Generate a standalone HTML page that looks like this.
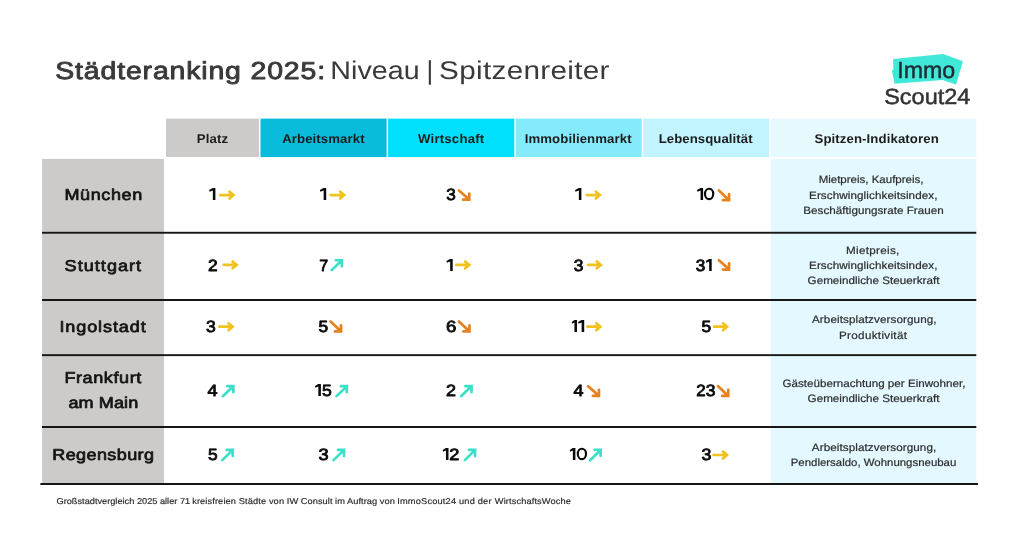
<!DOCTYPE html>
<html lang="de"><head><meta charset="utf-8"><title>Städteranking 2025: Niveau | Spitzenreiter</title>
<style>html,body{margin:0;padding:0;background:#fff}body{width:1024px;height:538px;overflow:hidden}svg{display:block}text{font-family:"Liberation Sans",sans-serif;white-space:pre;text-rendering:geometricPrecision}.b{font-weight:700}</style></head><body>
<svg style="will-change:transform" width="1024" height="538" viewBox="0 0 1024 538">
<!-- table cells -->
<rect x="42.1" y="158.9" width="121.90" height="325.10" fill="#cccbc9"/>
<rect x="166.0" y="118.6" width="92.97" height="38.45" fill="#cccbc9"/>
<rect x="260.47" y="118.6" width="126.15" height="38.45" fill="#0abcdc"/>
<rect x="388.12" y="118.6" width="126.20" height="38.45" fill="#00dffc"/>
<rect x="515.82" y="118.6" width="125.91" height="38.45" fill="#86eafd"/>
<rect x="643.23" y="118.6" width="125.97" height="38.45" fill="#c1f4fe"/>
<rect x="770.7" y="118.6" width="205.60" height="38.45" fill="#e6fafe"/>
<rect x="770.7" y="159.2" width="205.60" height="324.80" fill="#e4f9ff"/>
<!-- row rules -->
<rect x="42" y="231.8" width="934.30" height="1.90" fill="#161616"/>
<rect x="42" y="299.0" width="934.30" height="2.00" fill="#161616"/>
<rect x="42" y="354.2" width="934.30" height="1.90" fill="#161616"/>
<rect x="42" y="426.0" width="934.30" height="2.00" fill="#161616"/>
<rect x="40.4" y="483.0" width="937.60" height="2.00" fill="#161616"/>
<!-- logo tag -->
<polygon points="893.1,59 943.2,54 962.9,61.3 956.1,84.4 942.4,79.9 894.6,83.8 891.8,70.3 893.4,69.9" fill="#40e8d8"/>
<!-- title separator bar -->
<rect x="428.8" y="60.2" width="2.10" height="24.60" fill="#3a3a3a"/>
<!-- text -->
<text transform="translate(55.29 79) scale(1.1600 1)" font-size="24.5" fill="#3a3a3a" stroke="#3a3a3a" stroke-width="0.88" stroke-linejoin="round" letter-spacing="0.735">Städteranking 2025:</text>
<text transform="translate(330.26 79) scale(1.1200 1)" font-size="25.6" fill="#3a3a3a" letter-spacing="0.050">Niveau</text>
<text transform="translate(439.05 79) scale(1.1600 1)" font-size="25.6" fill="#3a3a3a" letter-spacing="0.272">Spitzenreiter</text>
<text class="b" transform="translate(196.72 143) scale(1.0400 1)" font-size="12.7" fill="#1c1c1c" letter-spacing="0.159">Platz</text>
<text class="b" transform="translate(282.24 143) scale(1.0400 1)" font-size="12.7" fill="#1c1c1c" letter-spacing="0.077">Arbeitsmarkt</text>
<text class="b" transform="translate(418.00 143) scale(1.0400 1)" font-size="12.7" fill="#1c1c1c" letter-spacing="0.190">Wirtschaft</text>
<text class="b" transform="translate(524.72 143) scale(1.0400 1)" font-size="12.7" fill="#1c1c1c" letter-spacing="0.084">Immobilienmarkt</text>
<text class="b" transform="translate(658.72 143) scale(1.0400 1)" font-size="12.7" fill="#1c1c1c" letter-spacing="0.052">Lebensqualität</text>
<text class="b" transform="translate(814.48 143) scale(1.0400 1)" font-size="12.7" fill="#1c1c1c" letter-spacing="0.098">Spitzen-Indikatoren</text>
<text transform="translate(64.42 200) scale(1.1500 1)" font-size="15.7" fill="#141414" stroke="#141414" stroke-width="0.71" stroke-linejoin="round" letter-spacing="0.522">München</text>
<text transform="translate(64.59 271) scale(1.1500 1)" font-size="15.7" fill="#141414" stroke="#141414" stroke-width="0.71" stroke-linejoin="round" letter-spacing="0.904">Stuttgart</text>
<text transform="translate(59.43 332) scale(1.1500 1)" font-size="15.7" fill="#141414" stroke="#141414" stroke-width="0.71" stroke-linejoin="round" letter-spacing="0.774">Ingolstadt</text>
<text transform="translate(64.42 383) scale(1.1500 1)" font-size="15.7" fill="#141414" stroke="#141414" stroke-width="0.71" stroke-linejoin="round" letter-spacing="0.507">Frankfurt</text>
<text transform="translate(68.39 408) scale(1.1500 1)" font-size="15.7" fill="#141414" stroke="#141414" stroke-width="0.71" stroke-linejoin="round" letter-spacing="0.104">am Main</text>
<text transform="translate(52.22 460) scale(1.1500 1)" font-size="15.7" fill="#141414" stroke="#141414" stroke-width="0.71" stroke-linejoin="round" letter-spacing="0.343">Regensburg</text>
<text transform="translate(446.22 200) scale(1.0507 1)" font-size="16.3" fill="#0a0a0a" stroke="#0a0a0a" stroke-width="0.82" stroke-linejoin="round">3</text>
<text transform="translate(207.91 271) scale(1.0640 1)" font-size="16.3" fill="#0a0a0a" stroke="#0a0a0a" stroke-width="0.82" stroke-linejoin="round">2</text>
<text transform="translate(319.27 271) scale(0.9840 1)" font-size="16.3" fill="#0a0a0a" stroke="#0a0a0a" stroke-width="0.82" stroke-linejoin="round">7</text>
<text transform="translate(573.81 271) scale(1.0640 1)" font-size="16.3" fill="#0a0a0a" stroke="#0a0a0a" stroke-width="0.82" stroke-linejoin="round">3</text>
<text transform="translate(695.82 271) scale(1.0507 1)" font-size="16.3" fill="#0a0a0a" stroke="#0a0a0a" stroke-width="0.82" stroke-linejoin="round">3</text>
<text transform="translate(206.10 332) scale(1.0773 1)" font-size="16.3" fill="#0a0a0a" stroke="#0a0a0a" stroke-width="0.82" stroke-linejoin="round">3</text>
<text transform="translate(318.61 332) scale(1.0640 1)" font-size="16.3" fill="#0a0a0a" stroke="#0a0a0a" stroke-width="0.82" stroke-linejoin="round">5</text>
<text transform="translate(446.05 332) scale(1.1440 1)" font-size="16.3" fill="#0a0a0a" stroke="#0a0a0a" stroke-width="0.82" stroke-linejoin="round">6</text>
<text transform="translate(701.61 332) scale(1.0640 1)" font-size="16.3" fill="#0a0a0a" stroke="#0a0a0a" stroke-width="0.82" stroke-linejoin="round">5</text>
<text transform="translate(207.55 396) scale(1.1100 1)" font-size="16.3" fill="#0a0a0a" stroke="#0a0a0a" stroke-width="0.82" stroke-linejoin="round">4</text>
<text transform="translate(322.00 396) scale(1.0773 1)" font-size="16.3" fill="#0a0a0a" stroke="#0a0a0a" stroke-width="0.82" stroke-linejoin="round">5</text>
<text transform="translate(446.08 396) scale(1.1040 1)" font-size="16.3" fill="#0a0a0a" stroke="#0a0a0a" stroke-width="0.82" stroke-linejoin="round">2</text>
<text transform="translate(573.46 396) scale(1.1100 1)" font-size="16.3" fill="#0a0a0a" stroke="#0a0a0a" stroke-width="0.82" stroke-linejoin="round">4</text>
<text transform="translate(696.23 396) scale(1.0373 1)" font-size="16.3" fill="#0a0a0a" stroke="#0a0a0a" stroke-width="0.82" stroke-linejoin="round">2</text>
<text transform="translate(705.80 396) scale(1.0773 1)" font-size="16.3" fill="#0a0a0a" stroke="#0a0a0a" stroke-width="0.82" stroke-linejoin="round">3</text>
<text transform="translate(207.91 460) scale(1.0640 1)" font-size="16.3" fill="#0a0a0a" stroke="#0a0a0a" stroke-width="0.82" stroke-linejoin="round">5</text>
<text transform="translate(318.57 460) scale(1.1173 1)" font-size="16.3" fill="#0a0a0a" stroke="#0a0a0a" stroke-width="0.82" stroke-linejoin="round">3</text>
<text transform="translate(449.37 460) scale(1.1173 1)" font-size="16.3" fill="#0a0a0a" stroke="#0a0a0a" stroke-width="0.82" stroke-linejoin="round">2</text>
<text transform="translate(701.59 460) scale(1.0907 1)" font-size="16.3" fill="#0a0a0a" stroke="#0a0a0a" stroke-width="0.82" stroke-linejoin="round">3</text>
<text transform="translate(818.63 183) scale(1.0763 1)" font-size="10.7" fill="#2e2e2e" stroke="#2e2e2e" stroke-width="0.21" stroke-linejoin="round">Mietpreis, Kaufpreis,</text>
<text transform="translate(809.01 199) scale(1.0900 1)" font-size="10.7" fill="#2e2e2e" stroke="#2e2e2e" stroke-width="0.21" stroke-linejoin="round" letter-spacing="0.089">Erschwinglichkeitsindex,</text>
<text transform="translate(803.31 214) scale(1.0900 1)" font-size="10.7" fill="#2e2e2e" stroke="#2e2e2e" stroke-width="0.21" stroke-linejoin="round" letter-spacing="0.020">Beschäftigungsrate Frauen</text>
<text transform="translate(846.01 254) scale(1.0900 1)" font-size="10.7" fill="#2e2e2e" stroke="#2e2e2e" stroke-width="0.21" stroke-linejoin="round" letter-spacing="0.284">Mietpreis,</text>
<text transform="translate(809.01 269) scale(1.0900 1)" font-size="10.7" fill="#2e2e2e" stroke="#2e2e2e" stroke-width="0.21" stroke-linejoin="round" letter-spacing="0.089">Erschwinglichkeitsindex,</text>
<text transform="translate(807.56 284) scale(1.0900 1)" font-size="10.7" fill="#2e2e2e" stroke="#2e2e2e" stroke-width="0.21" stroke-linejoin="round" letter-spacing="0.020">Gemeindliche Steuerkraft</text>
<text transform="translate(812.00 323) scale(1.0900 1)" font-size="10.7" fill="#2e2e2e" stroke="#2e2e2e" stroke-width="0.21" stroke-linejoin="round" letter-spacing="0.089">Arbeitsplatzversorgung,</text>
<text transform="translate(839.01 339) scale(1.0900 1)" font-size="10.7" fill="#2e2e2e" stroke="#2e2e2e" stroke-width="0.21" stroke-linejoin="round" letter-spacing="0.294">Produktivität</text>
<text transform="translate(782.56 387) scale(1.0872 1)" font-size="10.7" fill="#2e2e2e" stroke="#2e2e2e" stroke-width="0.21" stroke-linejoin="round">Gästeübernachtung per Einwohner,</text>
<text transform="translate(807.56 402) scale(1.0900 1)" font-size="10.7" fill="#2e2e2e" stroke="#2e2e2e" stroke-width="0.21" stroke-linejoin="round" letter-spacing="0.020">Gemeindliche Steuerkraft</text>
<text transform="translate(811.81 451) scale(1.0900 1)" font-size="10.7" fill="#2e2e2e" stroke="#2e2e2e" stroke-width="0.21" stroke-linejoin="round" letter-spacing="0.085">Arbeitsplatzversorgung,</text>
<text transform="translate(790.74 466) scale(1.0688 1)" font-size="10.7" fill="#2e2e2e" stroke="#2e2e2e" stroke-width="0.21" stroke-linejoin="round">Pendlersaldo, Wohnungsneubau</text>
<text transform="translate(56.49 504) scale(1.0839 1)" font-size="8.5" fill="#2a2a2a" stroke="#2a2a2a" stroke-width="0.17" stroke-linejoin="round">Großstadtvergleich 2025 aller 71</text>
<text transform="translate(192.14 504) scale(1.0900 1)" font-size="8.5" fill="#2a2a2a" stroke="#2a2a2a" stroke-width="0.17" stroke-linejoin="round" letter-spacing="0.100">kreisfreien Städte von IW</text>
<text transform="translate(300.84 504) scale(1.0900 1)" font-size="8.5" fill="#2a2a2a" stroke="#2a2a2a" stroke-width="0.17" stroke-linejoin="round" letter-spacing="0.032">Consult im Auftrag von</text>
<text transform="translate(397.17 504) scale(1.0900 1)" font-size="8.5" fill="#2a2a2a" stroke="#2a2a2a" stroke-width="0.17" stroke-linejoin="round" letter-spacing="0.160">ImmoScout24 und der</text>
<text transform="translate(494.78 504) scale(1.0900 1)" font-size="8.5" fill="#2a2a2a" stroke="#2a2a2a" stroke-width="0.17" stroke-linejoin="round" letter-spacing="0.105">WirtschaftsWoche</text>
<text transform="translate(897.20 78) scale(0.9951 1)" font-size="23.3" fill="#1f2d36" stroke="#1f2d36" stroke-width="0.47" stroke-linejoin="round">Immo</text>
<text transform="translate(884.17 104) scale(1.0673 1)" font-size="22.0" fill="#333" stroke="#333" stroke-width="0.48" stroke-linejoin="round">Scout24</text>
<!-- hand-drawn digits 1 / 0 -->
<polygon points="215.40,200.00 215.40,187.90 212.75,187.90 209.20,189.95 209.55,191.65 212.85,190.45 212.85,200.00" fill="#0a0a0a"/>
<polygon points="326.20,200.00 326.20,187.90 323.55,187.90 319.90,189.95 320.25,191.65 323.65,190.45 323.65,200.00" fill="#0a0a0a"/>
<polygon points="581.40,200.00 581.40,187.90 578.75,187.90 575.10,189.95 575.45,191.65 578.85,190.45 578.85,200.00" fill="#0a0a0a"/>
<polygon points="703.10,200.00 703.10,187.90 700.45,187.90 697.00,189.95 697.35,191.65 700.55,190.45 700.55,200.00" fill="#0a0a0a"/>
<ellipse cx="709.10" cy="193.95" rx="4.12" ry="5.24" fill="none" stroke="#0a0a0a" stroke-width="2.15"/>
<polygon points="452.70,271.00 452.70,258.90 450.05,258.90 446.50,260.95 446.85,262.65 450.15,261.45 450.15,271.00" fill="#0a0a0a"/>
<polygon points="711.70,271.00 711.70,258.90 709.05,258.90 705.90,260.95 706.25,262.65 709.15,261.45 709.15,271.00" fill="#0a0a0a"/>
<polygon points="577.00,332.00 577.00,319.90 574.35,319.90 571.80,321.95 572.15,323.65 574.45,322.45 574.45,332.00" fill="#0a0a0a"/>
<polygon points="584.20,332.00 584.20,319.90 581.55,319.90 578.10,321.95 578.45,323.65 581.65,322.45 581.65,332.00" fill="#0a0a0a"/>
<polygon points="320.90,396.00 320.90,383.90 318.25,383.90 315.00,385.95 315.35,387.65 318.35,386.45 318.35,396.00" fill="#0a0a0a"/>
<polygon points="448.50,460.00 448.50,447.90 445.85,447.90 442.70,449.95 443.05,451.65 445.95,450.45 445.95,460.00" fill="#0a0a0a"/>
<polygon points="575.40,460.00 575.40,447.90 572.75,447.90 569.80,449.95 570.15,451.65 572.85,450.45 572.85,460.00" fill="#0a0a0a"/>
<ellipse cx="581.90" cy="453.95" rx="4.12" ry="5.24" fill="none" stroke="#0a0a0a" stroke-width="2.15"/>
<!-- trend arrows -->
<path d="M220.25 195.10H232.84M229.44 191.70L233.44 195.10L229.44 198.50" fill="none" stroke="#f1c11d" stroke-width="2.7" stroke-linecap="round" stroke-linejoin="miter"/>
<path d="M330.65 195.10H343.54M340.14 191.70L344.14 195.10L340.14 198.50" fill="none" stroke="#f1c11d" stroke-width="2.7" stroke-linecap="round" stroke-linejoin="miter"/>
<path d="M586.75 195.10H599.24M595.84 191.70L599.84 195.10L595.84 198.50" fill="none" stroke="#f1c11d" stroke-width="2.7" stroke-linecap="round" stroke-linejoin="miter"/>
<path d="M223.75 264.90H236.04M232.64 261.50L236.64 264.90L232.64 268.30" fill="none" stroke="#f1c11d" stroke-width="2.7" stroke-linecap="round" stroke-linejoin="miter"/>
<path d="M456.35 264.90H468.64M465.24 261.50L469.24 264.90L465.24 268.30" fill="none" stroke="#f1c11d" stroke-width="2.7" stroke-linecap="round" stroke-linejoin="miter"/>
<path d="M588.15 264.90H600.24M596.84 261.50L600.84 264.90L596.84 268.30" fill="none" stroke="#f1c11d" stroke-width="2.7" stroke-linecap="round" stroke-linejoin="miter"/>
<path d="M219.35 326.70H231.94M228.54 323.30L232.54 326.70L228.54 330.10" fill="none" stroke="#f1c11d" stroke-width="2.7" stroke-linecap="round" stroke-linejoin="miter"/>
<path d="M587.45 326.70H599.74M596.34 323.30L600.34 326.70L596.34 330.10" fill="none" stroke="#f1c11d" stroke-width="2.7" stroke-linecap="round" stroke-linejoin="miter"/>
<path d="M714.15 326.70H726.44M723.04 323.30L727.04 326.70L723.04 330.10" fill="none" stroke="#f1c11d" stroke-width="2.7" stroke-linecap="round" stroke-linejoin="miter"/>
<path d="M713.55 455.00H726.34M722.94 451.60L726.94 455.00L722.94 458.40" fill="none" stroke="#f1c11d" stroke-width="2.7" stroke-linecap="round" stroke-linejoin="miter"/>
<path d="M458.95 190.55L468.55 198.95M469.25 193.55V199.65H463.15" fill="none" stroke="#e8801c" stroke-width="2.7" stroke-linecap="round" stroke-linejoin="miter"/>
<path d="M718.95 190.55L728.35 199.45M729.05 194.05V200.15H722.95" fill="none" stroke="#e8801c" stroke-width="2.7" stroke-linecap="round" stroke-linejoin="miter"/>
<path d="M718.95 260.25L728.35 268.85M729.05 263.45V269.55H722.95" fill="none" stroke="#e8801c" stroke-width="2.7" stroke-linecap="round" stroke-linejoin="miter"/>
<path d="M330.55 321.55L340.35 330.75M341.05 325.35V331.45H334.95" fill="none" stroke="#e8801c" stroke-width="2.7" stroke-linecap="round" stroke-linejoin="miter"/>
<path d="M458.95 321.55L468.75 330.75M469.45 325.35V331.45H463.35" fill="none" stroke="#e8801c" stroke-width="2.7" stroke-linecap="round" stroke-linejoin="miter"/>
<path d="M588.15 386.15L598.25 395.15M598.95 389.75V395.85H592.85" fill="none" stroke="#e8801c" stroke-width="2.7" stroke-linecap="round" stroke-linejoin="miter"/>
<path d="M718.15 386.15L727.55 395.15M728.25 389.75V395.85H722.15" fill="none" stroke="#e8801c" stroke-width="2.7" stroke-linecap="round" stroke-linejoin="miter"/>
<path d="M331.65 270.15L341.15 260.95M335.75 260.25H341.85V266.35" fill="none" stroke="#3be0c8" stroke-width="2.7" stroke-linecap="round" stroke-linejoin="miter"/>
<path d="M222.85 396.15L232.65 386.85M227.25 386.15H233.35V392.25" fill="none" stroke="#3be0c8" stroke-width="2.7" stroke-linecap="round" stroke-linejoin="miter"/>
<path d="M336.55 396.15L346.15 386.85M340.75 386.15H346.85V392.25" fill="none" stroke="#3be0c8" stroke-width="2.7" stroke-linecap="round" stroke-linejoin="miter"/>
<path d="M461.05 396.15L470.85 386.85M465.45 386.15H471.55V392.25" fill="none" stroke="#3be0c8" stroke-width="2.7" stroke-linecap="round" stroke-linejoin="miter"/>
<path d="M222.25 460.15L232.05 450.65M226.65 449.95H232.75V456.05" fill="none" stroke="#3be0c8" stroke-width="2.7" stroke-linecap="round" stroke-linejoin="miter"/>
<path d="M333.55 460.15L343.35 450.65M337.95 449.95H344.05V456.05" fill="none" stroke="#3be0c8" stroke-width="2.7" stroke-linecap="round" stroke-linejoin="miter"/>
<path d="M464.95 460.15L474.35 450.65M468.95 449.95H475.05V456.05" fill="none" stroke="#3be0c8" stroke-width="2.7" stroke-linecap="round" stroke-linejoin="miter"/>
<path d="M590.15 460.25L599.95 450.45M594.55 449.75H600.65V455.85" fill="none" stroke="#3be0c8" stroke-width="2.7" stroke-linecap="round" stroke-linejoin="miter"/>
</svg></body></html>
